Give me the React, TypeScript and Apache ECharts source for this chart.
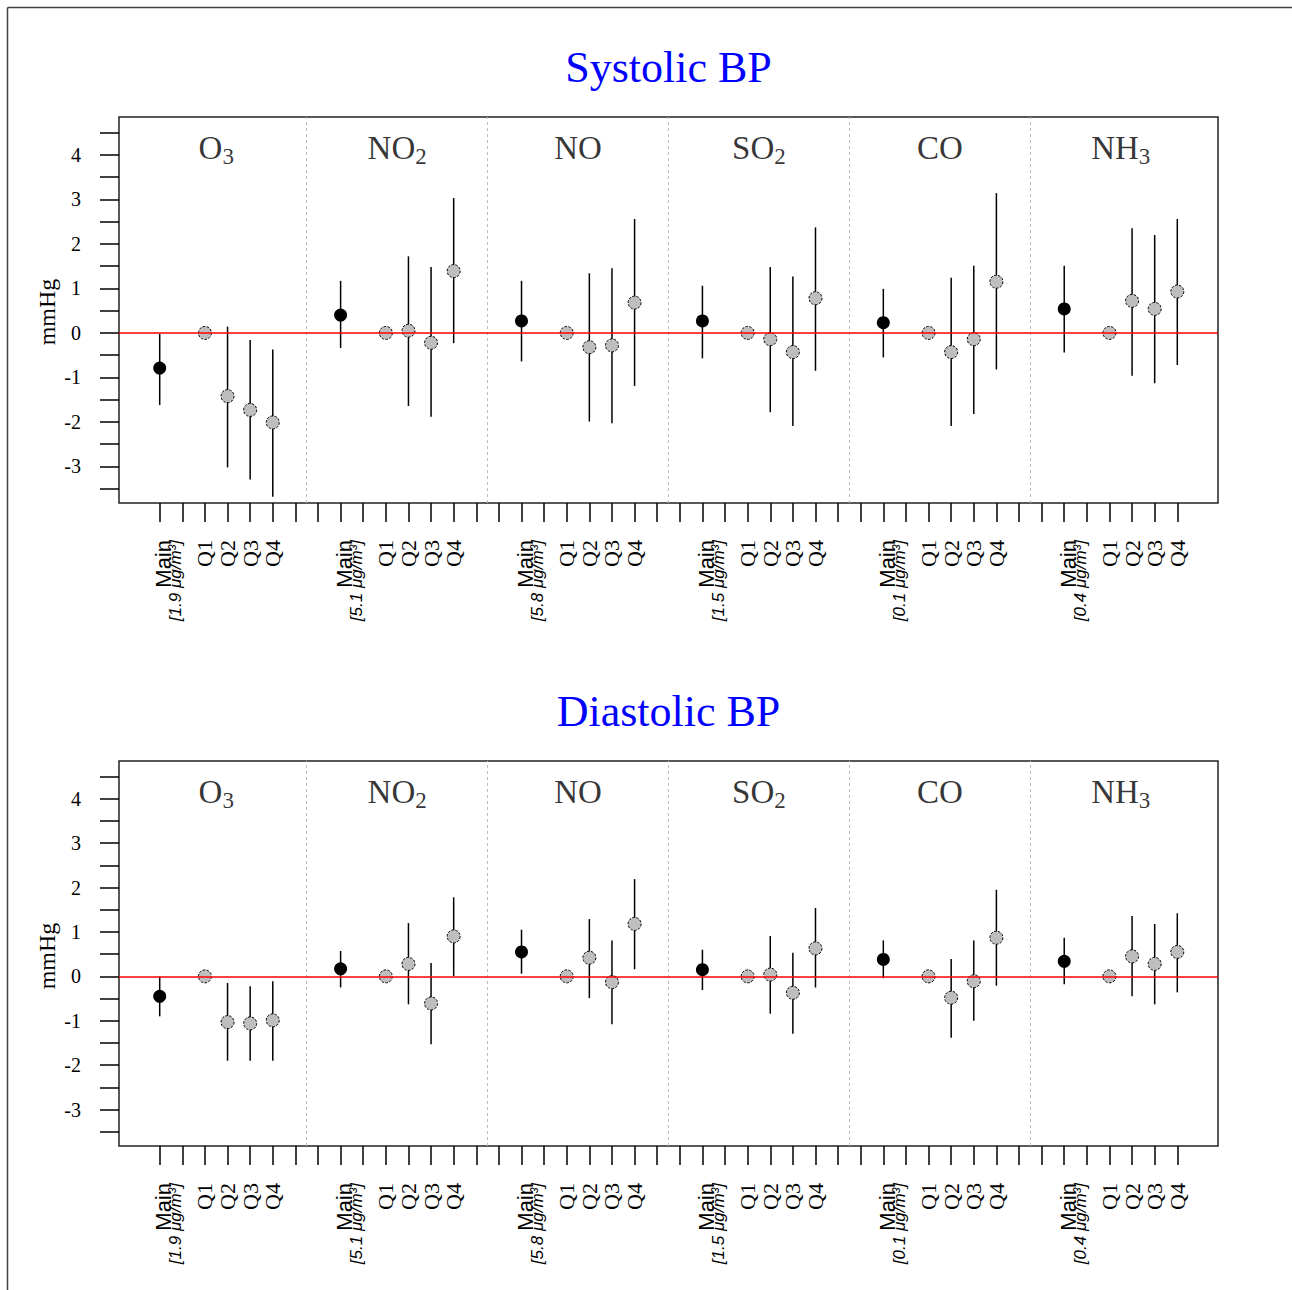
import React, { useEffect, useRef } from "react";
import * as echarts from "echarts";

// ---- data ----
const pollutantMain = ["O", "NO", "NO", "SO", "CO", "NH"];
const pollutantSub = ["3", "2", "", "2", "", "3"];
const concentrations = ["1.9", "5.1", "5.8", "1.5", "0.1", "0.4"];
const quartiles = ["Q1", "Q2", "Q3", "Q4"];
const yTickLabels = [-3, -2, -1, 0, 1, 2, 3, 4];
const yMinorTicks = [-3.5, -3, -2.5, -2, -1.5, -1, -0.5, 0, 0.5, 1, 1.5, 2, 2.5, 3, 3.5, 4, 4.5];

// Systolic BP
const sysMainEst = [-0.79, 0.40, 0.27, 0.27, 0.23, 0.54];
const sysMainLo = [-1.62, -0.34, -0.64, -0.57, -0.55, -0.44];
const sysMainHi = [-0.02, 1.17, 1.17, 1.06, 0.99, 1.51];
const sysQEst = [
  [0, -1.42, -1.73, -2.01],
  [0, 0.05, -0.22, 1.39],
  [0, -0.32, -0.28, 0.68],
  [0, -0.14, -0.43, 0.78],
  [0, -0.43, -0.14, 1.15],
  [0, 0.72, 0.54, 0.93],
];
const sysQLo = [
  [0, -3.02, -3.29, -3.68],
  [0, -1.64, -1.88, -0.23],
  [0, -1.99, -2.03, -1.19],
  [0, -1.78, -2.09, -0.85],
  [0, -2.09, -1.82, -0.82],
  [0, -0.96, -1.13, -0.72],
];
const sysQHi = [
  [0, 0.14, -0.16, -0.37],
  [0, 1.72, 1.48, 3.03],
  [0, 1.34, 1.45, 2.56],
  [0, 1.48, 1.27, 2.37],
  [0, 1.24, 1.51, 3.14],
  [0, 2.35, 2.20, 2.56],
];

// Diastolic BP
const diaMainEst = [-0.45, 0.17, 0.55, 0.15, 0.38, 0.34];
const diaMainLo = [-0.90, -0.25, 0.06, -0.31, -0.04, -0.18];
const diaMainHi = [0.0, 0.57, 1.05, 0.60, 0.81, 0.87];
const diaQEst = [
  [0, -1.03, -1.06, -0.99],
  [0, 0.28, -0.61, 0.90],
  [0, 0.42, -0.13, 1.18],
  [0, 0.04, -0.37, 0.63],
  [0, -0.48, -0.11, 0.87],
  [0, 0.45, 0.28, 0.55],
];
const diaQLo = [
  [0, -1.90, -1.90, -1.90],
  [0, -0.63, -1.53, 0.01],
  [0, -0.49, -1.08, 0.16],
  [0, -0.84, -1.29, -0.25],
  [0, -1.38, -1.00, -0.21],
  [0, -0.45, -0.63, -0.36],
];
const diaQHi = [
  [0, -0.15, -0.22, -0.11],
  [0, 1.20, 0.30, 1.78],
  [0, 1.29, 0.81, 2.19],
  [0, 0.91, 0.53, 1.54],
  [0, 0.39, 0.81, 1.95],
  [0, 1.36, 1.18, 1.42],
];

const panels = [
  { title: "Systolic BP", est: sysMainEst, lo: sysMainLo, hi: sysMainHi, qEst: sysQEst, qLo: sysQLo, qHi: sysQHi },
  { title: "Diastolic BP", est: diaMainEst, lo: diaMainLo, hi: diaMainHi, qEst: diaQEst, qLo: diaQLo, qHi: diaQHi },
];

// ---- layout helpers ----
const GROUP = 8;
const mainPos = (g: number) => 1 + GROUP * g;
const qPos = (g: number, k: number) => 3 + GROUP * g + k;
const xTicks: number[] = [];
for (let i = 1; i <= 46; i++) xTicks.push(i);
const separators = [7.5, 15.5, 23.5, 31.5, 39.5];

const labelMap: Record<number, string> = {};
const labelVals: number[] = [];
pollutantMain.forEach((_, g) => {
  labelMap[mainPos(g)] = `{e| }\n{m|Main}\n{c|[${concentrations[g]} μg/m³]}`;
  labelVals.push(mainPos(g));
  quartiles.forEach((q, k) => {
    labelMap[qPos(g, k)] = `{q|${q}}`;
    labelVals.push(qPos(g, k));
  });
});

const SERIF = "'Liberation Serif', 'Times New Roman', serif";
const SANS = "'Liberation Sans', Arial, sans-serif";

const grids = [
  { left: 119, top: 117, width: 1099, height: 386 },
  { left: 119, top: 761, width: 1099, height: 385 },
];
const PANEL_SHIFT = 644;

function buildOption() {
  const series: any[] = [];
  panels.forEach((p, pi) => {
    series.push({
      type: "line",
      xAxisIndex: pi,
      yAxisIndex: pi,
      data: [],
      silent: true,
      z: 1,
      markLine: {
        silent: true,
        symbol: ["none", "none"],
        label: { show: false },
        data: [
          ...separators.map((s) => ({ xAxis: s, lineStyle: { color: "#BDBDBD", type: [3, 3], width: 1 } })),
          { yAxis: 0, lineStyle: { color: "#FF0000", type: "solid", width: 1.5 } },
        ],
      },
    });
    const bars: number[][] = [];
    const mainPts: number[][] = [];
    const qPts: number[][] = [];
    const labels: any[] = [];
    pollutantMain.forEach((_, g) => {
      bars.push([mainPos(g), p.lo[g], p.hi[g]]);
      mainPts.push([mainPos(g), p.est[g]]);
      quartiles.forEach((_, k) => {
        if (p.qLo[g][k] !== p.qHi[g][k]) bars.push([qPos(g, k), p.qLo[g][k], p.qHi[g][k]]);
        qPts.push([qPos(g, k), p.qEst[g][k]]);
      });
      labels.push({ value: [mainPos(g) + 2.5, 4.15], name: String(g) });
    });
    series.push({
      type: "custom",
      xAxisIndex: pi,
      yAxisIndex: pi,
      z: 2,
      silent: true,
      encode: { x: 0, y: [1, 2] },
      data: bars,
      renderItem: (params: any, api: any) => {
        const x = api.value(0);
        const a = api.coord([x, api.value(1)]);
        const b = api.coord([x, api.value(2)]);
        return {
          type: "line",
          shape: { x1: a[0], y1: a[1], x2: b[0], y2: b[1] },
          style: { stroke: "#000", lineWidth: 1.5 },
        };
      },
    });
    series.push({
      type: "scatter",
      xAxisIndex: pi,
      yAxisIndex: pi,
      z: 3,
      symbol: "circle",
      symbolSize: 13,
      itemStyle: { color: "#000", opacity: 1 },
      data: mainPts,
    });
    series.push({
      type: "scatter",
      xAxisIndex: pi,
      yAxisIndex: pi,
      z: 3,
      symbol: "circle",
      symbolSize: 13,
      itemStyle: { color: "#BEBEBE", borderColor: "#000", borderWidth: 1, borderType: [2.5, 1.5], opacity: 1 },
      data: qPts,
    });
    series.push({
      type: "scatter",
      xAxisIndex: pi,
      yAxisIndex: pi,
      z: 4,
      silent: true,
      symbolSize: 0,
      itemStyle: { color: "transparent" },
      data: labels,
      label: {
        show: true,
        position: "inside",
        formatter: (d: any) => {
          const g = Number(d.name);
          return pollutantSub[g] ? `{a|${pollutantMain[g]}}{b|${pollutantSub[g]}}` : `{a|${pollutantMain[g]}}`;
        },
        rich: {
          a: { fontFamily: SERIF, fontSize: 33, lineHeight: 40, color: "#000" },
          b: { fontFamily: SERIF, fontSize: 23, lineHeight: 23, verticalAlign: "bottom", color: "#000" },
        },
      },
    });
  });

  const graphics: any[] = [
    { type: "line", shape: { x1: 7.5, y1: 7.5, x2: 1292, y2: 7.5 }, style: { stroke: "#444", lineWidth: 1.5 } },
    { type: "line", shape: { x1: 7.5, y1: 7.5, x2: 7.5, y2: 1290 }, style: { stroke: "#444", lineWidth: 1.5 } },
  ];
  panels.forEach((p, pi) => {
    graphics.push({
      type: "text",
      x: 668.5,
      y: 67 + pi * PANEL_SHIFT,
      style: { text: p.title, fill: "#0000FF", font: `44px ${SERIF}`, textAlign: "center", textVerticalAlign: "middle" },
    });
    graphics.push({
      type: "text",
      x: 47,
      y: 312 + pi * PANEL_SHIFT,
      rotation: Math.PI / 2,
      style: { text: "mmHg", fill: "#000", font: `24px ${SERIF}`, textAlign: "center", textVerticalAlign: "middle" },
    });
  });

  return {
    animation: false,
    backgroundColor: "#fff",
    grid: grids.map((g) => ({ ...g, show: true, borderColor: "#222", borderWidth: 1.5, backgroundColor: "transparent", containLabel: false })),
    xAxis: grids.map((_, i) => ({
      type: "value",
      gridIndex: i,
      min: -0.8,
      max: 47.8,
      axisLine: { show: false, onZero: false },
      splitLine: { show: false },
      axisTick: { show: true, customValues: xTicks, length: 19, lineStyle: { color: "#000", width: 1.5 } },
      axisLabel: {
        show: true,
        customValues: labelVals,
        rotate: 90,
        margin: 37,
        color: "#000",
        formatter: (v: number) => labelMap[Math.round(v)] || "",
        rich: {
          e: { fontFamily: SANS, fontSize: 6, lineHeight: 20, color: "#000" },
          m: { fontFamily: SANS, fontSize: 22, lineHeight: 12, color: "#000" },
          c: { fontFamily: SANS, fontStyle: "italic", fontSize: 17, lineHeight: 12, color: "#000" },
          q: { fontFamily: SERIF, fontSize: 22, color: "#000" },
        },
      },
    })),
    yAxis: grids.map((_, i) => ({
      type: "value",
      gridIndex: i,
      min: -3.82,
      max: 4.85,
      axisLine: { show: false, onZero: false },
      splitLine: { show: false },
      axisTick: { show: true, customValues: yMinorTicks, length: 19, lineStyle: { color: "#000", width: 1.5 } },
      axisLabel: {
        show: true,
        customValues: yTickLabels,
        margin: 38,
        fontFamily: SERIF,
        fontSize: 20,
        color: "#000",
      },
    })),
    graphic: graphics,
    series,
  };
}

export default function App() {
  const ref = useRef<HTMLDivElement>(null);
  useEffect(() => {
    if (!ref.current) return;
    const chart = echarts.init(ref.current, null, { renderer: "svg" });
    chart.setOption(buildOption() as any);
    return () => chart.dispose();
  }, []);
  return (
    <div
      ref={ref}
      style={{ position: "absolute", left: 0, top: 0, width: 1292, height: 1290, background: "#fff" }}
    />
  );
}
